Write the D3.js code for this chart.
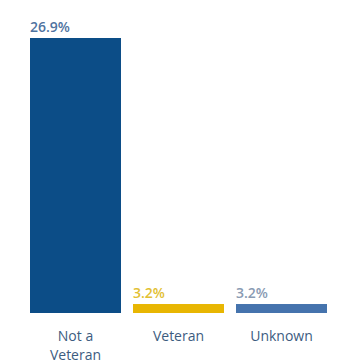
<html>
<head>
  <script src="https://d3js.org/d3.v7.min.js"></script>
  <style>
    body { margin: 0; background: #fff; }
    text { font-family: "Open Sans", Lato, sans-serif; }
  </style>
</head>
<body>
  <div id="chart"></div>
  <script>
    // chart values
    var categories = ["Not a Veteran", "Veteran", "Unknown"];
    var values = [26.9, 3.2, 3.2];
    var valueLabels = ["26.9%", "3.2%", "3.2%"];
    var catLines = [["Not a", "Veteran"], ["Veteran"], ["Unknown"]];

    var barColors = ["#0c4d87", "#e8b602", "#4573ad"];
    var labelColors = ["#4f73a0", "#e2c032", "#8a9bb3"];

    var width = 339, height = 364;

    var x = d3.scaleBand().domain(categories).range([30, 327]).paddingInner(0.1165);
    var y = d3.scaleLinear().domain([2.4, 26.9]).range([313, 38]);

    var svg = d3.select('#chart').append('svg')
      .attr('width', width)
      .attr('height', height);

    svg.selectAll('rect.bar')
      .data(values)
      .enter().append('rect')
        .attr('class', 'bar')
        .attr('x', function(d, i) { return x(categories[i]); })
        .attr('y', function(d) { return y(d); })
        .attr('width', x.bandwidth())
        .attr('height', function(d) { return y(2.4) - y(d); })
        .attr('fill', function(d, i) { return barColors[i]; });

    // value labels, left aligned above each bar
    svg.selectAll('text.val')
      .data(values)
      .enter().append('text')
        .attr('class', 'val')
        .attr('x', function(d, i) { return x(categories[i]); })
        .attr('y', function(d) { return y(d) - 6; })
        .attr('fill', function(d, i) { return labelColors[i]; })
        .style('font-size', '14px')
        .style('font-weight', 600)
        .text(function(d, i) { return valueLabels[i]; });

    // category labels, one text per line
    var lines = [];
    catLines.forEach(function(ls, i) {
      ls.forEach(function(l, j) { lines.push({cat: categories[i], text: l, row: j}); });
    });

    svg.selectAll('text.cat')
      .data(lines)
      .enter().append('text')
        .attr('class', 'cat')
        .attr('x', function(d) { return x(d.cat) + x.bandwidth() / 2; })
        .attr('y', function(d) { return 341 + d.row * 19; })
        .attr('text-anchor', 'middle')
        .attr('fill', '#3d5c7f')
        .style('font-size', '14px')
        .style('font-weight', 500)
        .text(function(d) { return d.text; });
  </script>
</body>
</html>
